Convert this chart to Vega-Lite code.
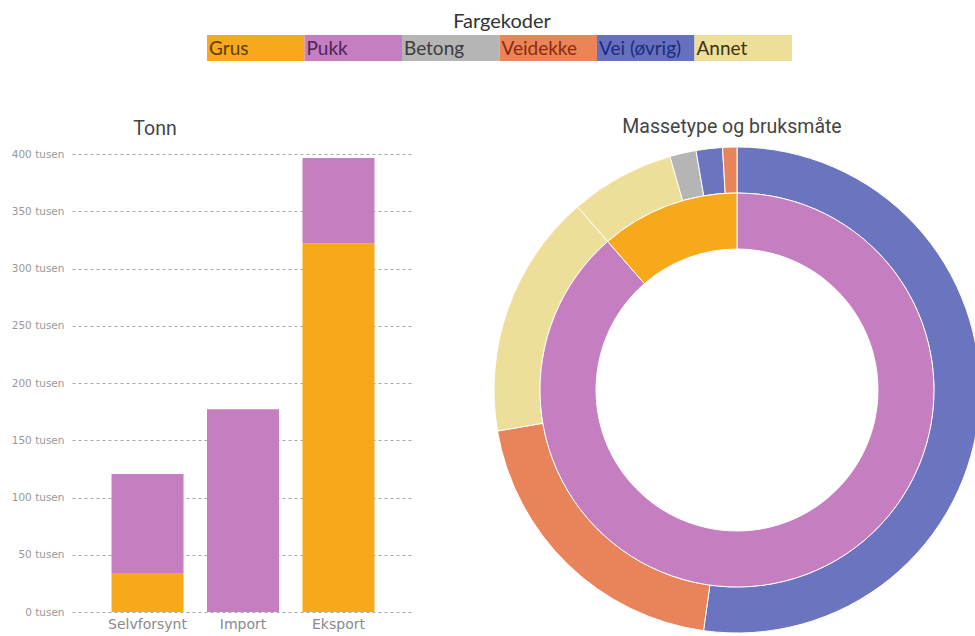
{
  "$schema": "https://vega.github.io/schema/vega-lite/v6.json",
  "padding": {"left": 11, "top": 12, "right": 0, "bottom": 0},
  "background": "white",
  "config": {"view": {"stroke": null}, "font": "Roboto"},
  "datasets": {
    "farger": [
      {"kategori": "Grus"},
      {"kategori": "Pukk"},
      {"kategori": "Betong"},
      {"kategori": "Veidekke"},
      {"kategori": "Vei (øvrig)"},
      {"kategori": "Annet"}
    ],
    "tonn": [
      {"kategori": "Selvforsynt", "masse": "Grus", "tonn": 34000},
      {"kategori": "Selvforsynt", "masse": "Pukk", "tonn": 86500},
      {"kategori": "Import", "masse": "Pukk", "tonn": 177000},
      {"kategori": "Eksport", "masse": "Grus", "tonn": 322000},
      {"kategori": "Eksport", "masse": "Pukk", "tonn": 74500}
    ],
    "masse": [
      {"nr": 1, "massetype": "Pukk", "bruk": "Vei (øvrig)", "andel": 52.2},
      {"nr": 2, "massetype": "Pukk", "bruk": "Veidekke", "andel": 20.1},
      {"nr": 3, "massetype": "Pukk", "bruk": "Annet", "andel": 16.3},
      {"nr": 4, "massetype": "Grus", "bruk": "Annet", "andel": 6.95},
      {"nr": 5, "massetype": "Grus", "bruk": "Betong", "andel": 1.75},
      {"nr": 6, "massetype": "Grus", "bruk": "Vei (øvrig)", "andel": 1.75},
      {"nr": 7, "massetype": "Grus", "bruk": "Veidekke", "andel": 0.95}
    ]
  },
  "spacing": 55,
  "vconcat": [
    {
      "width": 900,
      "height": 26,
      "data": {"name": "farger"},
      "title": {"text": "Fargekoder", "font": "Lato", "fontSize": 20, "fontWeight": "normal", "color": "#333333", "anchor": "middle", "dx": -20, "offset": -13, "baseline": "alphabetic", "frame": "group"},
      "resolve": {"scale": {"color": "independent"}},
      "layer": [
        {
          "mark": {"type": "bar"},
          "encoding": {
            "x": {"field": "kategori", "type": "nominal", "sort": null, "scale": {"range": [135, 720], "paddingInner": 0, "paddingOuter": 0}, "axis": null},
            "color": {"field": "kategori", "type": "nominal", "legend": null,
              "scale": {"domain": ["Grus", "Pukk", "Betong", "Veidekke", "Vei (øvrig)", "Annet"], "range": ["#F7A81B", "#C57EC0", "#B5B5B5", "#EB8558", "#6571BE", "#EEDF98"]}}
          }
        },
        {
          "mark": {"type": "text", "align": "left", "baseline": "middle", "dx": 2, "dy": 1, "font": "Lato", "fontSize": 19},
          "encoding": {
            "x": {"field": "kategori", "type": "nominal", "sort": null, "bandPosition": 0},
            "text": {"field": "kategori"},
            "color": {"field": "kategori", "type": "nominal", "legend": null,
              "scale": {"domain": ["Grus", "Pukk", "Betong", "Veidekke", "Vei (øvrig)", "Annet"], "range": ["#5E3C06", "#4E2458", "#3C3C3C", "#8A2A10", "#1F2A7E", "#3A3412"]}}
          }
        }
      ]
    },
    {
      "spacing": 78,
      "hconcat": [
        {
          "width": 342,
          "height": 458,
          "data": {"name": "tonn"},
          "title": {"text": "Tonn", "font": "Roboto", "fontSize": 19.5, "fontWeight": "normal", "color": "#444444", "anchor": "middle", "dx": -88, "offset": -5, "baseline": "alphabetic", "frame": "group"},
          "mark": {"type": "bar"},
          "encoding": {
            "x": {"field": "kategori", "type": "nominal", "sort": ["Selvforsynt", "Import", "Eksport"],
              "scale": {"paddingInner": 0.246, "paddingOuter": 0.414},
              "axis": {"title": null, "labelAngle": 0, "domain": false, "ticks": false, "labelFont": "DejaVu Sans", "labelFontSize": 14, "labelColor": "#8A8A8A", "labelPadding": 5}},
            "y": {"field": "tonn", "type": "quantitative", "stack": "zero",
              "scale": {"domain": [0, 400000]},
              "axis": {"title": null, "values": [0, 50000, 100000, 150000, 200000, 250000, 300000, 350000, 400000],
                "labelExpr": "format(datum.value / 1000, 'd') + ' tusen'",
                "domain": false, "ticks": false, "labelFont": "DejaVu Sans", "labelFontSize": 10.5, "labelColor": "#999999", "labelPadding": 8,
                "grid": true, "gridDash": [3, 3], "gridColor": "#A8A8A8", "gridWidth": 1}},
            "color": {"field": "masse", "type": "nominal", "legend": null,
              "scale": {"domain": ["Grus", "Pukk"], "range": ["#F7A81B", "#C57EC0"]}},
            "order": {"field": "masse", "sort": "ascending"}
          }
        },
        {
          "width": 478,
          "height": 472,
          "data": {"name": "masse"},
          "title": {"text": "Massetype og bruksmåte", "font": "Roboto", "fontSize": 19.5, "fontWeight": "normal", "color": "#444444", "anchor": "middle", "dx": -5, "offset": -7, "baseline": "alphabetic", "frame": "group"},
          "resolve": {"scale": {"color": "independent"}},
          "layer": [
            {
              "mark": {"type": "arc", "radius": 243, "radius2": 197, "stroke": "#FFFFFF", "strokeWidth": 1},
              "encoding": {
                "theta": {"field": "andel", "type": "quantitative", "stack": true},
                "order": {"field": "nr", "type": "quantitative", "sort": "ascending"},
                "color": {"field": "bruk", "type": "nominal", "legend": null,
                  "scale": {"domain": ["Grus", "Pukk", "Betong", "Veidekke", "Vei (øvrig)", "Annet"], "range": ["#F7A81B", "#C57EC0", "#B5B5B5", "#E9845A", "#6B75BF", "#EDDF9A"]}}
              }
            },
            {
              "mark": {"type": "arc", "radius": 197, "radius2": 141, "stroke": "#FFFFFF", "strokeWidth": 1},
              "encoding": {
                "theta": {"field": "andel", "type": "quantitative", "aggregate": "sum", "stack": true},
                "order": {"field": "massetype", "sort": "descending"},
                "color": {"field": "massetype", "type": "nominal", "legend": null,
                  "scale": {"domain": ["Grus", "Pukk"], "range": ["#F7A81B", "#C57EC0"]}}
              }
            }
          ]
        }
      ]
    }
  ]
}
